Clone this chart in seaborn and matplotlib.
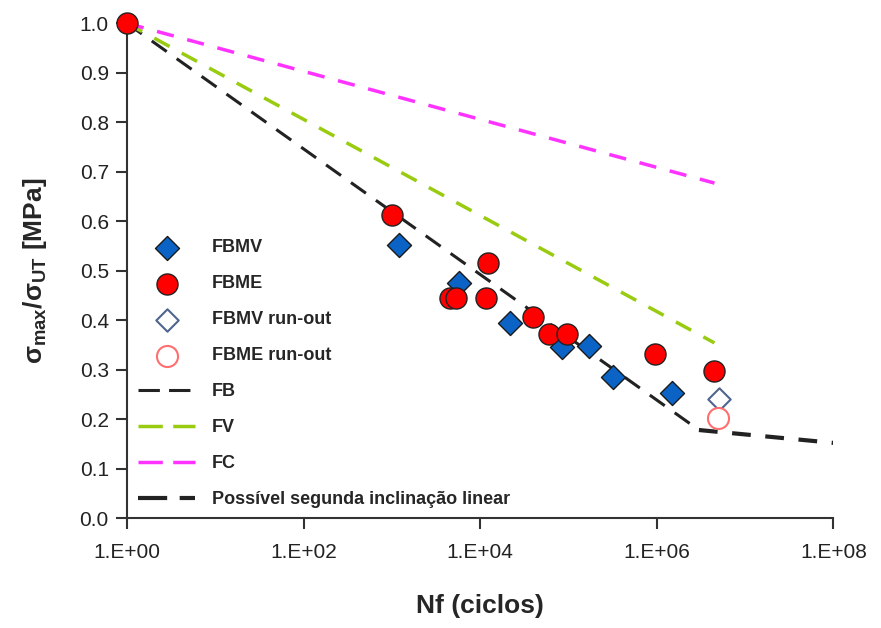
import numpy as np
import matplotlib
matplotlib.use("Agg")
import matplotlib.pyplot as plt
import seaborn as sns
from matplotlib.ticker import FuncFormatter, FixedLocator, NullLocator

# fatigue data, normalised stress vs cycles
fbmv_n = [1.2e3, 5.8e3, 2.2e4, 8.5e4, 1.7e5, 3.2e5, 1.5e6]
fbmv_s = [0.552, 0.475, 0.394, 0.346, 0.347, 0.285, 0.252]

fbme_n = [1, 1.0e3, 4.6e3, 5.3e3, 1.17e4, 1.23e4, 4.0e4, 6.0e4, 9.6e4, 9.6e5, 4.4e6]
fbme_s = [1.0, 0.612, 0.444, 0.444, 0.444, 0.515, 0.406, 0.372, 0.372, 0.331, 0.297]

fbmv_ro_n = [5.0e6]
fbmv_ro_s = [0.240]
fbme_ro_n = [4.9e6]
fbme_ro_s = [0.202]

fb_n = [1, 3.0e6]
fb_s = [1.0, 0.178]
fv_n = [1, 4.5e6]
fv_s = [1.0, 0.354]
fc_n = [1, 4.5e6]
fc_s = [1.0, 0.677]
seg_n = [3.0e6, 1e8]
seg_s = [0.178, 0.152]

sns.set_theme(style="white")
plt.rcParams['font.family'] = ['Liberation Sans', 'DejaVu Sans']

fig, ax = plt.subplots(figsize=(8.81, 6.28), dpi=100)

sns.lineplot(x=fb_n, y=fb_s, ax=ax, color='#222222', lw=2.2, linestyle=(0, (6, 4)), label='FB')
sns.lineplot(x=fv_n, y=fv_s, ax=ax, color='#99cc11', lw=2.5, linestyle=(0, (5, 4)), label='FV')
sns.lineplot(x=fc_n, y=fc_s, ax=ax, color='#ff33ff', lw=2.5, linestyle=(0, (5, 4)), label='FC')
sns.lineplot(x=seg_n, y=seg_s, ax=ax, color='#222222', lw=3, linestyle=(0, (4.5, 3.5)),
             label='Possível segunda inclinação linear')

sns.scatterplot(x=fbmv_n, y=fbmv_s, ax=ax, marker='D', s=150, color='#0b63c5',
                edgecolor='#1a1a1a', linewidth=1, label='FBMV', zorder=5)
sns.scatterplot(x=fbme_n, y=fbme_s, ax=ax, marker='o', s=230, color='#ff0000',
                edgecolor='#222222', linewidth=1, label='FBME', zorder=6, clip_on=False)
sns.scatterplot(x=fbmv_ro_n, y=fbmv_ro_s, ax=ax, marker='D', s=130, color='white',
                edgecolor='#4f6590', linewidth=1.5, label='FBMV run-out', zorder=5)
sns.scatterplot(x=fbme_ro_n, y=fbme_ro_s, ax=ax, marker='o', s=230, color='white',
                edgecolor='#ff6f6f', linewidth=1.5, label='FBME run-out', zorder=5)

ax.set_xscale('log')
ax.set_xlim(1, 1e8)
ax.set_ylim(0, 1.0)
ax.xaxis.set_major_locator(FixedLocator([1, 1e2, 1e4, 1e6, 1e8]))
ax.xaxis.set_minor_locator(NullLocator())
ax.xaxis.set_major_formatter(FuncFormatter(lambda v, p: f"1.E+{int(round(np.log10(v))):02d}"))
ax.set_yticks(np.arange(0, 1.01, 0.1))
ax.yaxis.set_major_formatter(FuncFormatter(lambda v, p: f"{v:.1f}"))

ax.tick_params(axis='both', which='major', direction='out', length=8, width=1.5,
               labelsize=15, color='#333333', labelcolor='#222222', left=True, bottom=True)
ax.tick_params(axis='x', pad=10)
ax.tick_params(axis='y', pad=5)
for side in ['top', 'right']:
    ax.spines[side].set_visible(False)
for side in ['left', 'bottom']:
    ax.spines[side].set_color('#333333')
    ax.spines[side].set_linewidth(1.5)

ax.set_xlabel('Nf (ciclos)', fontsize=19, fontweight='bold', labelpad=23)
ax.set_ylabel(r'$\mathregular{\sigma_{max}/\sigma_{UT}}$ [MPa]', fontsize=19,
              fontweight='bold', labelpad=22)

handles, labels = ax.get_legend_handles_labels()
order = ['FBMV', 'FBME', 'FBMV run-out', 'FBME run-out', 'FB', 'FV', 'FC',
         'Possível segunda inclinação linear']
hmap = dict(zip(labels, handles))
leg = ax.legend([hmap[k] for k in order], order, loc='upper left', bbox_to_anchor=(0.0, 0.585),
                frameon=False, prop={'weight': 'bold', 'size': 13}, labelspacing=1.05,
                handlelength=3.2, handletextpad=0.9, borderaxespad=0.2)
for ln in leg.get_lines():
    ln.set_linestyle((0, (7, 3)))

plt.subplots_adjust(left=0.144, right=0.946, top=0.963, bottom=0.175)
fig.savefig('out.png', dpi=100)
